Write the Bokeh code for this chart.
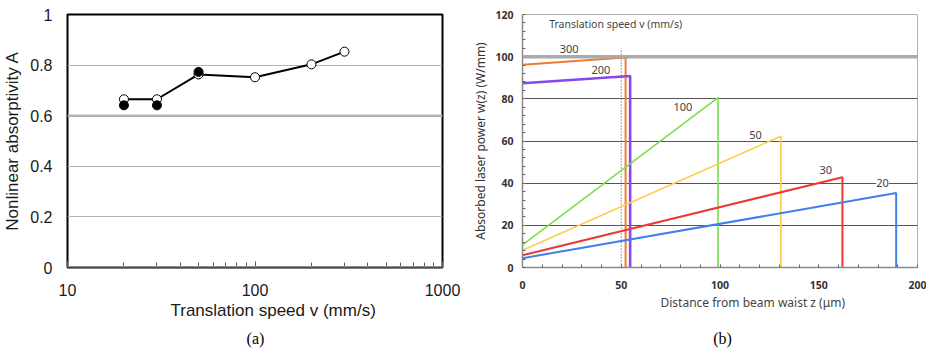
from bokeh.plotting import figure
from bokeh.layouts import row, column
from bokeh.models import FixedTicker, CustomJSTickFormatter, Span, Title, Label
from bokeh.embed import file_html
from bokeh.resources import INLINE

# ---- (a) nonlinear absorptivity vs translation speed ----
speed_open = [20, 30, 50, 100, 200, 300]
absorp_open = [0.665, 0.665, 0.763, 0.752, 0.803, 0.853]
speed_filled = [20, 30, 50]
absorp_filled = [0.641, 0.641, 0.773]
a_xticks = [10, 100, 1000]
a_xminor = [20, 30, 40, 50, 60, 70, 80, 90, 200, 300, 400, 500, 600, 700, 800, 900]
a_yticks = [0, 0.2, 0.4, 0.6, 0.8, 1]

# ---- (b) absorbed laser power along z for each translation speed ----
b_speeds = ["300", "200", "100", "50", "30", "20"]
b_z_end = [52.2, 54.5, 99.0, 130.8, 162.0, 189.2]
b_w_start = [96.2, 87.4, 10.7, 8.2, 5.8, 4.4]
b_w_end = [99.6, 90.8, 80.6, 62.3, 42.8, 35.3]
b_colors = ["#ef7a30", "#8a46ee", "#7ade4a", "#ffcc4a", "#ec3a32", "#3f7fee"]
b_widths = [2, 2.6, 1.6, 1.6, 2, 2]
b_label_x = [23.6, 39.7, 81.2, 118.0, 153.6, 182.3]
b_label_y = [103.8, 93.6, 76.0, 63.0, 46.3, 40.0]
b_xticks = [0, 50, 100, 150, 200]
b_yticks = [0, 20, 40, 60, 80, 100, 120]

captions = ["(a)", "(b)"]

SANS_A = "Liberation Sans"
SANS_B = "Noto Sans"
SERIF = "Liberation Serif"

pa = figure(width=463, height=322, x_axis_type="log", x_range=(10, 1000), y_range=(0, 1),
            output_backend="svg", toolbar_location=None,
            min_border_left=67, min_border_right=21, min_border_top=14, min_border_bottom=55)
pa.outline_line_color = "black"
pa.outline_line_width = 2
pa.xgrid.visible = False
pa.ygrid.ticker = FixedTicker(ticks=[0.2, 0.4, 0.6, 0.8])
pa.ygrid.grid_line_color = "#b4b4b4"
pa.ygrid.grid_line_width = 1

pa.xaxis.ticker = FixedTicker(ticks=a_xticks, minor_ticks=a_xminor)
pa.xaxis.formatter = CustomJSTickFormatter(code="return tick.toFixed(0)")
pa.xaxis.axis_line_color = None
pa.xaxis.major_tick_in = 6
pa.xaxis.major_tick_out = 0
pa.xaxis.minor_tick_in = 5
pa.xaxis.minor_tick_out = 0
pa.xaxis.major_tick_line_color = "#555"
pa.xaxis.minor_tick_line_color = "#555"
pa.xaxis.major_label_standoff = 16
pa.xaxis.major_label_text_font = SANS_A
pa.xaxis.major_label_text_font_size = "16px"
pa.xaxis.major_label_text_color = "#1a1a1a"

pa.yaxis.ticker = FixedTicker(ticks=a_yticks)
pa.yaxis.formatter = CustomJSTickFormatter(code="return tick.toString()")
pa.yaxis.axis_line_color = None
pa.yaxis.major_tick_in = 0
pa.yaxis.major_tick_out = 0
pa.yaxis.minor_tick_line_color = None
pa.yaxis.major_label_standoff = 15
pa.yaxis.major_label_text_font = SANS_A
pa.yaxis.major_label_text_font_size = "16px"
pa.yaxis.major_label_text_color = "#1a1a1a"
pa.yaxis.axis_label = "Nonlinear absorptivity A"
pa.yaxis.axis_label_standoff = 5
pa.yaxis.axis_label_text_font = SANS_A
pa.yaxis.axis_label_text_font_size = "17px"
pa.yaxis.axis_label_text_font_style = "normal"
pa.yaxis.axis_label_text_color = "#1a1a1a"

# heavier grid line at 0.6 and the grey baseline at 0
pa.add_layout(Span(location=0.6, dimension="width", line_color="#b4b4b4", line_width=2.5))
pa.add_layout(Span(location=0, dimension="width", line_color="#8c8c8c", line_width=3, level="overlay"))

pa.line(speed_open, absorp_open, line_color="black", line_width=2)
pa.scatter(speed_open, absorp_open, size=9, fill_color="white", line_color="black", line_width=1)
pa.scatter(speed_filled, absorp_filled, size=9, fill_color="black", line_color="black", line_width=1)

pa.add_layout(Title(text="Translation speed v (mm/s)", align="left", offset=103, standoff=0,
                    text_font=SANS_A, text_font_size="17px", text_font_style="normal",
                    text_color="#1a1a1a"), "below")

pb = figure(width=463, height=322, x_range=(0, 200), y_range=(0, 120),
            output_backend="svg", toolbar_location=None,
            min_border_left=59, min_border_right=9, min_border_top=14, min_border_bottom=52)
pb.outline_line_color = "#b0b0b0"
pb.outline_line_width = 1
pb.xgrid.visible = False
pb.ygrid.ticker = FixedTicker(ticks=[20, 40, 60, 80])
pb.ygrid.grid_line_color = "#555555"
pb.ygrid.grid_line_width = 1

pb.xaxis.ticker = FixedTicker(ticks=b_xticks, minor_ticks=list(range(10, 200, 10)))
pb.yaxis.ticker = FixedTicker(ticks=b_yticks, minor_ticks=list(range(4, 120, 4)))
for ax in (pb.xaxis, pb.yaxis):
    ax.axis_line_color = "#8a8a8a"
    ax.axis_line_width = 1.5
    ax.major_tick_in = 3
    ax.major_tick_out = 0
    ax.minor_tick_in = 3
    ax.minor_tick_out = 0
    ax.major_tick_line_color = "#666"
    ax.minor_tick_line_color = "#666"
    ax.major_label_text_font = SANS_B
    ax.major_label_text_font_size = "10.5px"
    ax.major_label_text_font_style = "bold"
    ax.major_label_text_color = "#333"
pb.xaxis.major_label_standoff = 13
pb.yaxis.major_label_standoff = 9
pb.yaxis.axis_label = "Absorbed laser power w(z) (W/mm)"
pb.yaxis.axis_label_standoff = 3
pb.yaxis.axis_label_text_font = SANS_B
pb.yaxis.axis_label_text_font_size = "12px"
pb.yaxis.axis_label_text_font_style = "normal"
pb.yaxis.axis_label_text_color = "#333"

pb.add_layout(Span(location=100, dimension="width", line_color="#aaaaaa", line_width=3.5))
pb.line([50, 50], [0, 104], line_color="#777777", line_width=1.3, line_dash="1 2")

for sp, z1, w0, w1, col, lw in zip(b_speeds, b_z_end, b_w_start, b_w_end, b_colors, b_widths):
    pb.line([0, z1, z1], [w0, w1, 0], line_color=col, line_width=lw)

for sp, lx, ly in zip(b_speeds, b_label_x, b_label_y):
    pb.add_layout(Label(x=lx, y=ly, text=sp, text_align="center", text_baseline="middle",
                        text_font=SANS_B, text_font_size="11px", text_color="#444",
                        background_fill_color="white" if sp == "20" else None,
                        background_fill_alpha=1.0))

pb.add_layout(Label(x=13.5, y=115.3, text="Translation speed v (mm/s)", text_align="left",
                    text_baseline="middle", text_font=SANS_B, text_font_size="10.5px",
                    text_color="#444"))

pb.add_layout(Title(text="Distance from beam waist z (\u03bcm)", align="left", offset=138, standoff=0,
                    text_font=SANS_B, text_font_size="12px", text_font_style="normal",
                    text_color="#444"), "below")

# caption strip under both panels (pixel-based coordinates)
cap = figure(width=926, height=28, x_range=(0, 926), y_range=(0, 28),
             output_backend="svg", toolbar_location=None,
             x_axis_location=None, y_axis_location=None,
             min_border=0, min_border_left=0, min_border_right=0,
             min_border_top=0, min_border_bottom=0)
cap.outline_line_color = None
cap.grid.visible = False
for txt, cx in zip(captions, [255, 722]):
    cap.add_layout(Label(x=cx, y=12, text=txt, text_align="center", text_baseline="middle",
                         text_font=SERIF, text_font_size="16px", text_color="black"))

layout = column(row(pa, pb), cap)
open("out.html", "w").write(file_html(layout, INLINE))
